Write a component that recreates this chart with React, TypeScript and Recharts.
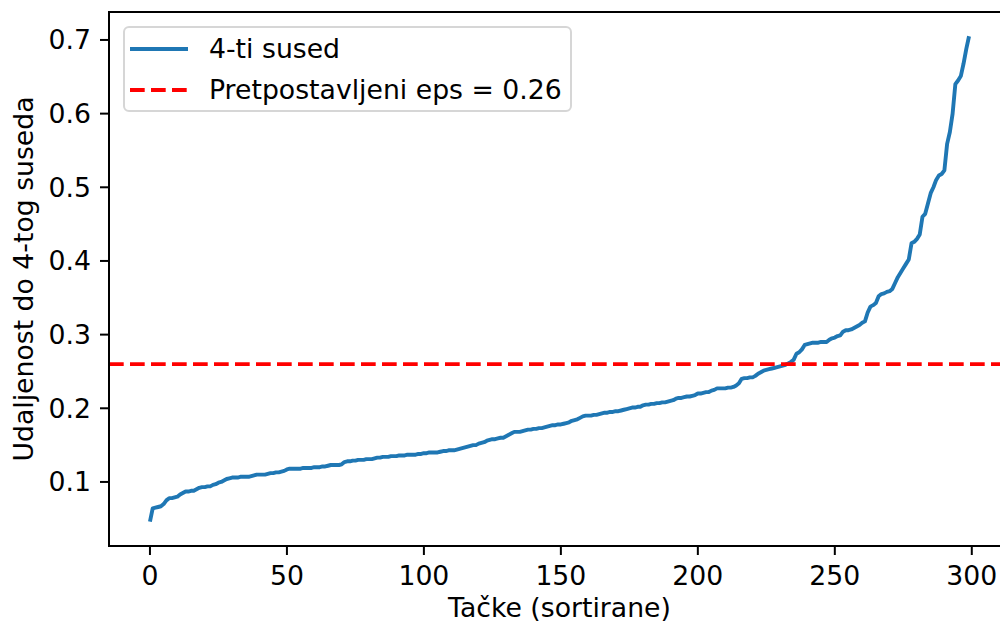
import React from "react";
import {
  ComposedChart,
  Line,
  XAxis,
  YAxis,
  ReferenceLine,
  ReferenceArea,
  Legend,
} from "recharts";

// Sorted distance to the 4th nearest neighbour, one value per point (0..299)
const kDistances: number[] = [
  0.046, 0.064, 0.065, 0.066, 0.067, 0.070, 0.075, 0.078, 0.078, 0.079,
  0.080, 0.083, 0.085, 0.087, 0.087, 0.088, 0.088, 0.090, 0.092, 0.093,
  0.093, 0.094, 0.094, 0.096, 0.097, 0.099, 0.100, 0.102, 0.104, 0.105,
  0.106, 0.106, 0.106, 0.107, 0.107, 0.107, 0.107, 0.108, 0.109, 0.110,
  0.110, 0.110, 0.110, 0.111, 0.112, 0.112, 0.113, 0.113, 0.114, 0.115,
  0.117, 0.118, 0.118, 0.118, 0.118, 0.118, 0.119, 0.119, 0.119, 0.119,
  0.120, 0.120, 0.120, 0.121, 0.121, 0.122, 0.123, 0.123, 0.123, 0.123,
  0.124, 0.127, 0.128, 0.128, 0.129, 0.129, 0.130, 0.130, 0.130, 0.131,
  0.131, 0.131, 0.132, 0.133, 0.133, 0.134, 0.134, 0.134, 0.135, 0.135,
  0.135, 0.136, 0.136, 0.136, 0.137, 0.137, 0.137, 0.137, 0.138, 0.138,
  0.139, 0.139, 0.140, 0.140, 0.140, 0.140, 0.141, 0.142, 0.142, 0.143,
  0.143, 0.143, 0.144, 0.145, 0.146, 0.147, 0.148, 0.149, 0.150, 0.150,
  0.152, 0.153, 0.154, 0.156, 0.157, 0.158, 0.158, 0.159, 0.160, 0.160,
  0.162, 0.164, 0.166, 0.168, 0.168, 0.168, 0.169, 0.170, 0.171, 0.171,
  0.172, 0.172, 0.173, 0.173, 0.174, 0.175, 0.176, 0.177, 0.177, 0.178,
  0.178, 0.179, 0.180, 0.181, 0.183, 0.184, 0.185, 0.187, 0.189, 0.190,
  0.190, 0.190, 0.191, 0.191, 0.192, 0.193, 0.194, 0.194, 0.195, 0.195,
  0.196, 0.196, 0.197, 0.198, 0.199, 0.200, 0.201, 0.201, 0.202, 0.202,
  0.204, 0.205, 0.205, 0.206, 0.206, 0.207, 0.207, 0.208, 0.208, 0.209,
  0.210, 0.211, 0.213, 0.214, 0.214, 0.215, 0.216, 0.216, 0.217, 0.218,
  0.220, 0.220, 0.221, 0.222, 0.222, 0.224, 0.225, 0.227, 0.227, 0.227,
  0.227, 0.228, 0.228, 0.229, 0.231, 0.234, 0.240, 0.241, 0.241, 0.242,
  0.242, 0.244, 0.247, 0.249, 0.251, 0.252, 0.253, 0.254, 0.255, 0.256,
  0.257, 0.258, 0.259, 0.261, 0.263, 0.266, 0.274, 0.276, 0.280, 0.286,
  0.287, 0.288, 0.289, 0.289, 0.289, 0.290, 0.290, 0.290, 0.293, 0.295,
  0.296, 0.298, 0.299, 0.304, 0.306, 0.306, 0.307, 0.309, 0.311, 0.313,
  0.316, 0.318, 0.330, 0.338, 0.340, 0.343, 0.352, 0.355, 0.356, 0.358,
  0.359, 0.362, 0.370, 0.378, 0.384, 0.390, 0.396, 0.402, 0.424, 0.426,
  0.430, 0.436, 0.460, 0.464, 0.478, 0.492, 0.500, 0.510, 0.516, 0.518,
  0.523, 0.559, 0.575, 0.600, 0.640, 0.645, 0.651, 0.668, 0.688, 0.705,
];

const xTicks: number[] = [0, 50, 100, 150, 200, 250, 300];
const yTicks: number[] = [0.1, 0.2, 0.3, 0.4, 0.5, 0.6, 0.7];
const epsValue = 0.26;

const seriesLabel = "4-ti sused";
const epsLabel = `Pretpostavljeni eps = ${epsValue}`;
const xLabel = "Tačke (sortirane)";
const yLabel = "Udaljenost do 4-tog suseda";

const data = kDistances.map((d, i) => ({ i, d }));

// 5% padding around the data range on both axes
const n = kDistances.length - 1;
const xPad = n * 0.05;
const xDomain: [number, number] = [-xPad, n + xPad];
const yMin = Math.min(...kDistances);
const yMax = Math.max(...kDistances);
const yPad = (yMax - yMin) * 0.05;
const yDomain: [number, number] = [yMin - yPad, yMax + yPad];

const FONT = "'DejaVu Sans', sans-serif";
const FS = 26.7;
const BLUE = "#1f77b4";
const LW = 3.9;
const DASH = "14.7 6.3";

const legendContent = () => (
  <div
    style={{
      position: "relative",
      width: 449,
      height: 86,
      boxSizing: "border-box",
      border: "2px solid #d6d6d6",
      borderRadius: 6,
      background: "rgba(255,255,255,0.8)",
      fontFamily: FONT,
      fontSize: FS,
      color: "#000",
    }}
  >
    {[
      { label: seriesLabel, color: BLUE, dash: undefined as string | undefined, top: 5 },
      { label: epsLabel, color: "#ff0000", dash: DASH, top: 46 },
    ].map((row) => (
      <div
        key={row.label}
        style={{
          position: "absolute",
          left: 5,
          top: row.top,
          height: 32,
          display: "flex",
          alignItems: "center",
          whiteSpace: "nowrap",
        }}
      >
        <svg width={58} height={32} style={{ display: "block" }}>
          <line
            x1={0}
            x2={58}
            y1={16}
            y2={16}
            stroke={row.color}
            strokeWidth={LW}
            strokeDasharray={row.dash}
          />
        </svg>
        <span style={{ marginLeft: 21, lineHeight: "32px" }}>{row.label}</span>
      </div>
    ))}
  </div>
);

export default function App() {
  return (
    <div
      style={{
        position: "absolute",
        left: 0,
        top: 0,
        width: 1000,
        height: 626,
        overflow: "hidden",
        background: "#fff",
      }}
    >
      <ComposedChart
        width={1015}
        height={626}
        data={data}
        margin={{ top: 12, right: 5, bottom: 0, left: 0 }}
        style={{ fontFamily: FONT }}
      >
        <XAxis
          dataKey="i"
          type="number"
          domain={xDomain}
          ticks={xTicks}
          allowDataOverflow
          height={80}
          tickSize={9}
          tickMargin={11}
          axisLine={{ stroke: "#000", strokeWidth: 2 }}
          tickLine={{ stroke: "#000", strokeWidth: 2 }}
          tick={{ fill: "#000", fontSize: FS, fontFamily: FONT }}
          label={{
            content: (p: any) => {
              const vb = p.viewBox;
              return (
                <text
                  x={vb.x + vb.width / 2}
                  y={617}
                  textAnchor="middle"
                  fontSize={FS}
                  fontFamily={FONT}
                  fill="#000"
                >
                  {xLabel}
                </text>
              );
            },
          }}
        />
        <YAxis
          type="number"
          domain={yDomain}
          ticks={yTicks}
          allowDataOverflow
          width={109}
          tickSize={9}
          tickMargin={9}
          tickFormatter={(v: number) => v.toFixed(1)}
          axisLine={{ stroke: "#000", strokeWidth: 2 }}
          tickLine={{ stroke: "#000", strokeWidth: 2 }}
          tick={{ fill: "#000", fontSize: FS, fontFamily: FONT }}
          label={{
            content: (p: any) => {
              const vb = p.viewBox;
              const cy = vb.y + vb.height / 2;
              return (
                <text
                  x={33}
                  y={cy}
                  textAnchor="middle"
                  transform={`rotate(-90 33 ${cy})`}
                  fontSize={FS}
                  fontFamily={FONT}
                  fill="#000"
                >
                  {yLabel}
                </text>
              );
            },
          }}
        />
        <ReferenceArea
          x1={xDomain[0]}
          x2={xDomain[1]}
          y1={yDomain[0]}
          y2={yDomain[1]}
          fill="none"
          stroke="#000"
          strokeWidth={2}
          ifOverflow="visible"
        />
        <Line
          name={seriesLabel}
          type="linear"
          dataKey="d"
          stroke={BLUE}
          strokeWidth={LW}
          strokeLinejoin="round"
          dot={false}
          activeDot={false}
          isAnimationActive={false}
        />
        <ReferenceLine
          y={epsValue}
          stroke="#ff0000"
          strokeWidth={LW}
          strokeDasharray={DASH}
          ifOverflow="visible"
        />
        <Legend
          layout="vertical"
          align="center"
          verticalAlign="middle"
          content={legendContent}
          wrapperStyle={{ position: "absolute", left: 123, top: 26, width: 449, height: 86 }}
        />
      </ComposedChart>
    </div>
  );
}
